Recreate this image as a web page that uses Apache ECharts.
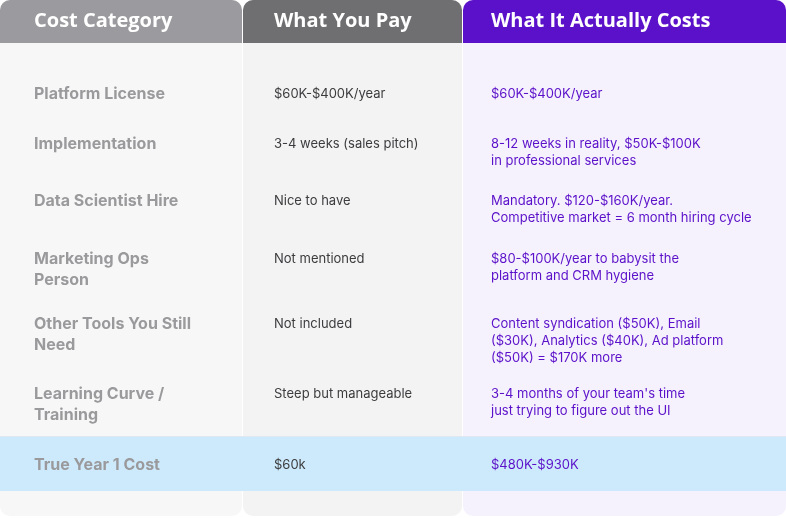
<!DOCTYPE html>
<html><head><meta charset="utf-8">
<script src="https://cdn.jsdelivr.net/npm/echarts@6/dist/echarts.min.js"></script>
<style>html,body{margin:0;padding:0;background:#fff}#main{width:786px;height:518px}</style>
</head><body><div id="main"></div>
<script>
var headers = ['Cost Category', 'What You Pay', 'What It Actually Costs'];
var categories = ['Platform License', 'Implementation', 'Data Scientist Hire', 'Marketing Ops\nPerson',
  'Other Tools You Still\nNeed', 'Learning Curve /\nTraining', 'True Year 1 Cost'];
var youPay = ['$60K-$400K/year', '3-4 weeks (sales pitch)', 'Nice to have', 'Not mentioned',
  'Not included', 'Steep but manageable', '$60k'];
var actualCost = ['$60K-$400K/year', '8-12 weeks in reality, $50K-$100K\nin professional services',
  'Mandatory. $120-$160K/year.\nCompetitive market = 6 month hiring cycle',
  '$80-$100K/year to babysit the\nplatform and CRM hygiene',
  'Content syndication ($50K), Email\n($30K), Analytics ($40K), Ad platform\n($50K) = $170K more',
  '3-4 months of your team\'s time\njust trying to figure out the UI', '$480K-$930K'];

// layout
var colX = [0, 242, 462, 786];
var textX = [34, 274, 491];
var rowY = [94, 144, 201, 259, 324, 394, 465];
var headBg = ['#9b9b9f', '#6f6f72', '#5b11c9'];
var bodyBg = ['#f7f7f8', '#f3f3f4', '#f5f1fd'];

var g = [];
for (var c = 0; c < 3; c++) {
  var w = colX[c + 1] - colX[c];
  g.push({type: 'rect', shape: {x: colX[c] + (c ? 1 : 0), y: 0, width: w - (c ? 1 : 0), height: 516, r: 10},
    style: {fill: bodyBg[c]}});
  g.push({type: 'rect', shape: {x: colX[c] + (c ? 1 : 0), y: 0, width: w - (c ? 1 : 0), height: 43, r: [10, 10, 0, 0]},
    style: {fill: headBg[c]}});
  g.push({type: 'text', x: textX[c], y: 21, style: {text: headers[c], fill: '#fff',
    font: 'bold 20px "Open Sans", sans-serif', verticalAlign: 'middle'}});
}
g.push({type: 'rect', shape: {x: 0, y: 437, width: 786, height: 54}, style: {fill: '#cdeafc'}});
g.push({type: 'rect', shape: {x: 0, y: 436, width: 786, height: 1}, style: {fill: '#dfe8f2'}});

var cols = [categories, youPay, actualCost];
var fonts = ['bold 16px Inter, sans-serif', '13px Inter, sans-serif', '13px Inter, sans-serif'];
var fills = ['#9a9a9c', '#3c3c3e', '#5b11c9'];
var lh = [21, 17, 17];
for (var r = 0; r < categories.length; r++) {
  for (var k = 0; k < 3; k++) {
    g.push({type: 'text', x: textX[k], y: rowY[r] - lh[k] / 2, style: {text: cols[k][r], fill: fills[k],
      font: fonts[k], lineHeight: lh[k], verticalAlign: 'top'}});
  }
}

var chart = echarts.init(document.getElementById('main'));
chart.setOption({animation: false, graphic: {elements: g}});
</script></body></html>
